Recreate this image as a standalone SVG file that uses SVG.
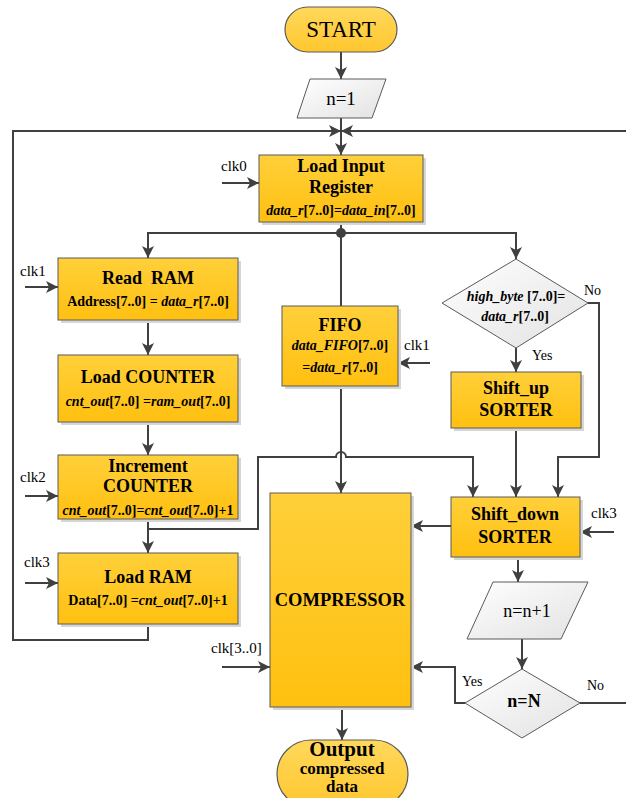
<svg xmlns="http://www.w3.org/2000/svg" width="626" height="798" viewBox="0 0 626 798">
<defs>
  <linearGradient id="gY" x1="0" y1="0" x2="0" y2="1">
    <stop offset="0" stop-color="#FFD03A"/>
    <stop offset="1" stop-color="#FFC010"/>
  </linearGradient>
  <linearGradient id="gT" x1="0" y1="0" x2="0" y2="1">
    <stop offset="0" stop-color="#FFD85C"/>
    <stop offset="1" stop-color="#FFC72E"/>
  </linearGradient>
  <linearGradient id="gG" x1="0" y1="0" x2="1" y2="1">
    <stop offset="0" stop-color="#FFFFFF"/>
    <stop offset="1" stop-color="#E2E2E2"/>
  </linearGradient>
  <marker id="ah" viewBox="0 0 12 12" refX="12" refY="6" markerWidth="12" markerHeight="12" markerUnits="userSpaceOnUse" orient="auto">
    <path d="M0,0 L12,6 L0,12 L3,6 z" fill="#404040"/>
  </marker>
  <style>
    .box{fill:url(#gY);stroke:#5A5A5A;stroke-width:1}
    .sh{fill:#D6D6D6}
    .term{fill:url(#gT);stroke:#5A5A5A;stroke-width:1.2}
    .gray{fill:url(#gG);stroke:#5A5A5A;stroke-width:1}
    .c{fill:none;stroke:#404040;stroke-width:2}
    .a{marker-end:url(#ah)}
    text{font-family:"Liberation Serif","Times New Roman",serif;fill:#000}
    .t{font-weight:bold;font-size:18px;text-anchor:middle}
    .s{font-weight:bold;font-size:14px;text-anchor:middle}
    .l{font-size:15px}
    .i{font-style:italic}
  </style>
</defs>

<g id="connectors">
  <path class="c a" d="M341,52 V79"/>
  <path class="c a" d="M341,118 V155"/>
  <path class="c a" d="M148,624 V640 H13 V131 H341"/>
  <path class="c a" d="M626,131 H341"/>
  <path class="c a" d="M222,183 H259"/>
  <path class="c" d="M341,222 V306"/>
  <circle cx="341" cy="233" r="5" fill="#404040"/>
  <path class="c a" d="M341,233 H148 V258"/>
  <path class="c a" d="M341,233 H516 V259"/>
  <path class="c a" d="M25,287 H58"/>
  <path class="c a" d="M148,320 V355"/>
  <path class="c a" d="M148,422 V455"/>
  <path class="c a" d="M25,496 H58"/>
  <path class="c a" d="M148,519 V553"/>
  <path class="c a" d="M25,583 H58"/>
  <path class="c a" d="M148,529 H258 V457 H336 A5,5 0 0 1 346,457 H473 V497"/>
  <path class="c a" d="M341,386 V493"/>
  <path class="c a" d="M430,363 H398"/>
  <path class="c a" d="M516,348 V372"/>
  <path class="c a" d="M588,303 H599 V457 H558 V497"/>
  <path class="c a" d="M516,428 V497"/>
  <path class="c a" d="M451,526 H411"/>
  <path class="c a" d="M614,532 H580"/>
  <path class="c a" d="M518,557 V582"/>
  <path class="c a" d="M522,639 V669"/>
  <path class="c a" d="M465,703 H455 V667 H411"/>
  <path class="c" d="M580,703 H626"/>
  <path class="c a" d="M222,667 H270"/>
  <path class="c a" d="M342,707 V740"/>
</g>

<g id="start">
  <rect class="term" x="285" y="7" width="112" height="45" rx="22.5"/>
  <text x="341" y="37" style="font-size:23px;text-anchor:middle">START</text>
</g>

<g id="n1">
  <polygon class="gray" points="310,79 386,79 372,118 297,118"/>
  <text x="341" y="105" style="font-size:19px;text-anchor:middle">n=1</text>
</g>

<g id="load-input-register">
  <rect class="sh" x="262" y="158" width="164" height="67"/>
  <rect class="box" x="259" y="155" width="164" height="67"/>
  <text class="t" x="341" y="172">Load Input</text>
  <text class="t" x="341" y="193">Register</text>
  <text class="s" x="341" y="215"><tspan class="i">data_r</tspan>[7..0]=<tspan class="i">data_in</tspan>[7..0]</text>
  <text class="l" x="221" y="171">clk0</text>
</g>

<g id="read-ram">
  <rect class="sh" x="61" y="261" width="180" height="62"/>
  <rect class="box" x="58" y="258" width="180" height="62"/>
  <text class="t" x="148" y="284" xml:space="preserve">Read  RAM</text>
  <text class="s" x="148" y="306">Address[7..0] = <tspan class="i">data_r</tspan>[7..0]</text>
  <text class="l" x="20" y="276">clk1</text>
</g>

<g id="load-counter">
  <rect class="sh" x="61" y="358" width="180" height="67"/>
  <rect class="box" x="58" y="355" width="180" height="67"/>
  <text class="t" x="148" y="383">Load COUNTER</text>
  <text class="s" x="148" y="406"><tspan class="i">cnt_out</tspan>[7..0] =<tspan class="i">ram_out</tspan>[7..0]</text>
</g>

<g id="increment-counter">
  <rect class="sh" x="61" y="458" width="180" height="64"/>
  <rect class="box" x="58" y="455" width="180" height="64"/>
  <text class="t" x="148" y="472">Increment</text>
  <text class="t" x="148" y="492">COUNTER</text>
  <text class="s" x="148" y="515"><tspan class="i">cnt_out</tspan>[7..0]=<tspan class="i">cnt_out</tspan>[7..0]+1</text>
  <text class="l" x="20" y="482">clk2</text>
</g>

<g id="load-ram">
  <rect class="sh" x="61" y="556" width="180" height="71"/>
  <rect class="box" x="58" y="553" width="180" height="71"/>
  <text class="t" x="148" y="583">Load RAM</text>
  <text class="s" x="148" y="605">Data[7..0] =<tspan class="i">cnt_out</tspan>[7..0]+1</text>
  <text class="l" x="24" y="567">clk3</text>
</g>

<g id="fifo">
  <rect class="sh" x="285" y="309" width="116" height="80"/>
  <rect class="box" x="282" y="306" width="116" height="80"/>
  <text class="t" x="340" y="331">FIFO</text>
  <text class="s" x="340" y="350"><tspan class="i">data_FIFO</tspan>[7..0]</text>
  <text class="s" x="340" y="372">=<tspan class="i">data_r</tspan>[7..0]</text>
  <text class="l" x="404" y="350">clk1</text>
</g>

<g id="decision-high-byte">
  <polygon class="gray" points="516,259 588,303 516,348 442,303"/>
  <text class="s" x="516" y="301"><tspan class="i">high_byte</tspan> [7..0]=</text>
  <text class="s" x="515" y="321"><tspan class="i">data_r</tspan>[7..0]</text>
  <text class="l" x="584" y="295" style="font-size:14px">No</text>
  <text class="l" x="532" y="360" style="font-size:14px">Yes</text>
</g>

<g id="shift-up-sorter">
  <rect class="sh" x="454" y="375" width="130" height="56"/>
  <rect class="box" x="451" y="372" width="130" height="56"/>
  <text class="t" x="516" y="394">Shift_up</text>
  <text class="t" x="516" y="416">SORTER</text>
</g>

<g id="shift-down-sorter">
  <rect class="sh" x="454" y="500" width="129" height="60"/>
  <rect class="box" x="451" y="497" width="129" height="60"/>
  <text class="t" x="515" y="520">Shift_down</text>
  <text class="t" x="515" y="543">SORTER</text>
  <text class="l" x="591" y="518">clk3</text>
</g>

<g id="compressor">
  <rect class="sh" x="273" y="496" width="141" height="214"/>
  <rect class="box" x="270" y="493" width="141" height="214"/>
  <text class="t" x="340" y="606" style="font-size:18.5px">COMPRESSOR</text>
  <text class="l" x="211" y="653">clk[3..0]</text>
</g>

<g id="n-increment">
  <polygon class="gray" points="493,582 588,582 561,639 467,639"/>
  <text x="527" y="617" style="font-size:18px;text-anchor:middle">n=n+1</text>
</g>

<g id="decision-n-equals-N">
  <polygon class="gray" points="522,669 580,703 522,738 465,703"/>
  <text class="t" x="524" y="707">n=N</text>
  <text class="l" x="462" y="686" style="font-size:14px">Yes</text>
  <text class="l" x="587" y="690" style="font-size:14px">No</text>
</g>

<g id="output">
  <rect class="term" x="277" y="740" width="131" height="68" rx="34"/>
  <text class="t" x="342" y="756" style="font-size:21px">Output</text>
  <text class="t" x="342" y="774" style="font-size:17px">compressed</text>
  <text class="t" x="342" y="792" style="font-size:17px">data</text>
</g>
</svg>
